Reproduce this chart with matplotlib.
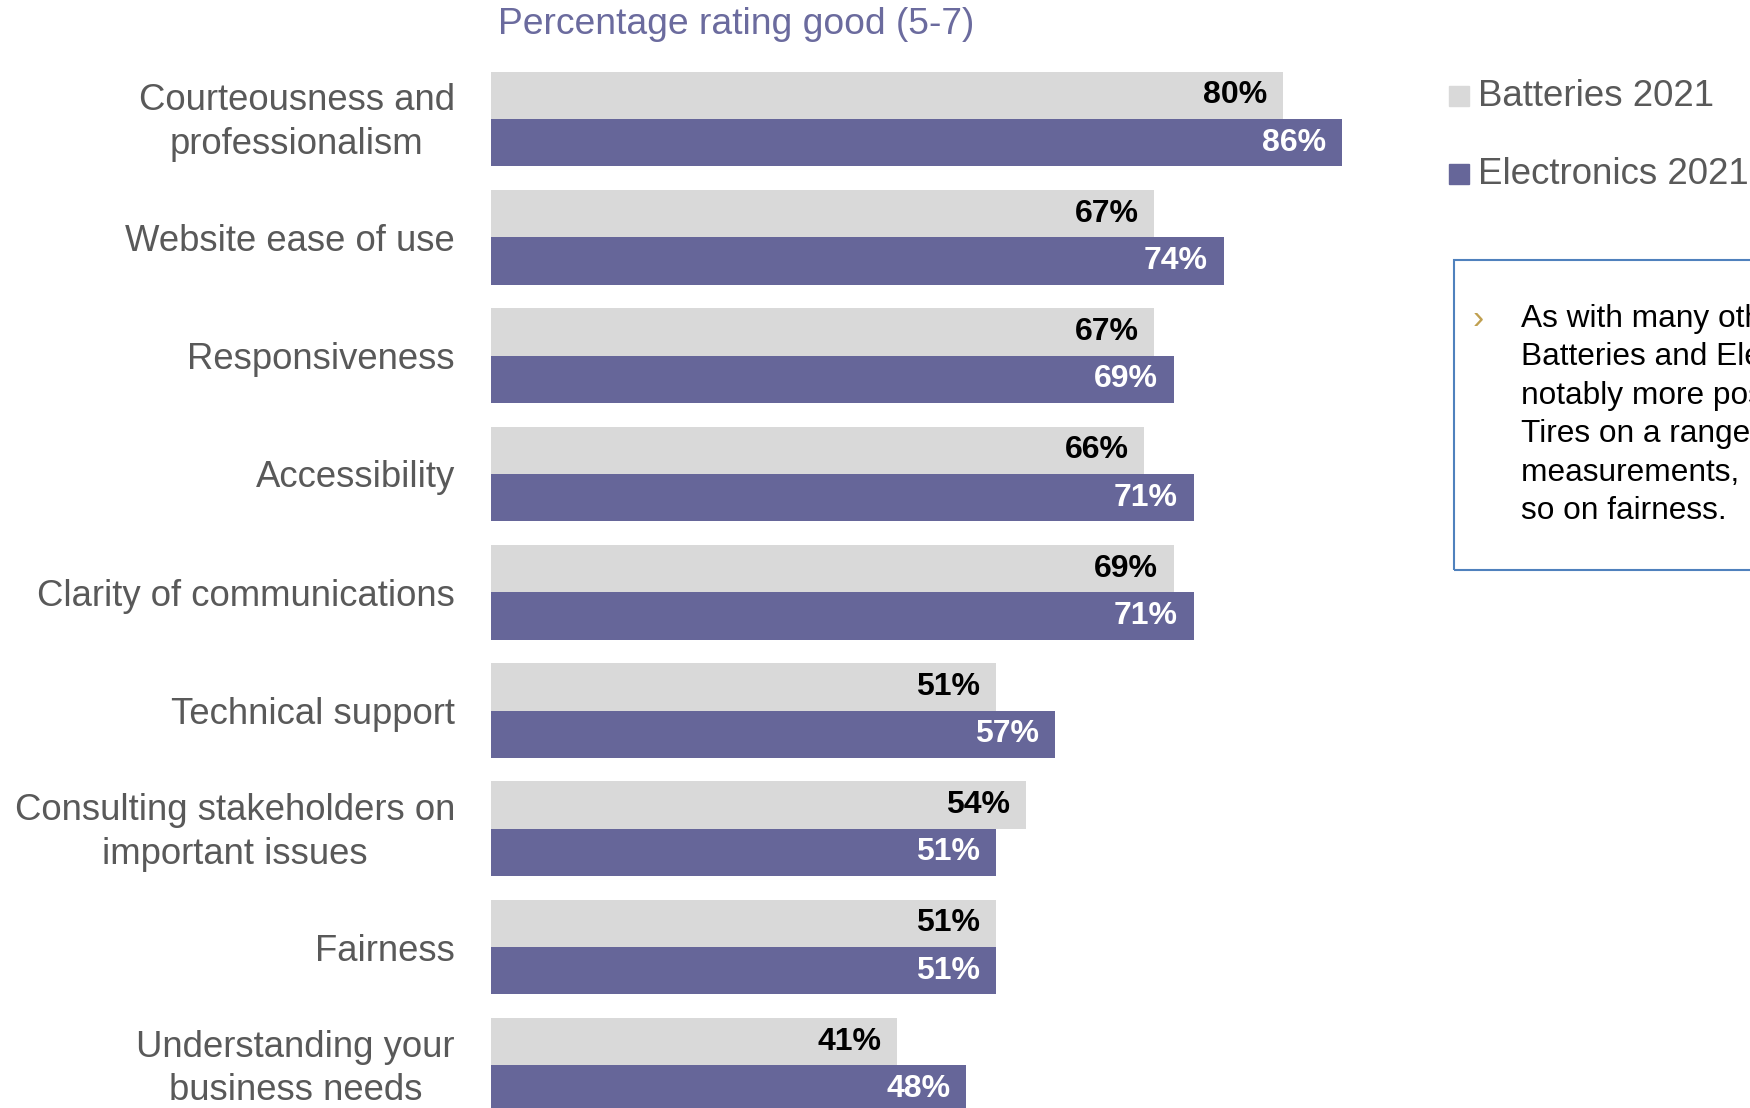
import matplotlib.pyplot as plt
import matplotlib.transforms as mtransforms
from matplotlib.patches import Rectangle

# Survey results, percentage rating good (5-7)
categories = [
    "Courteousness and\nprofessionalism",
    "Website ease of use",
    "Responsiveness",
    "Accessibility",
    "Clarity of communications",
    "Technical support",
    "Consulting stakeholders on\nimportant issues",
    "Fairness",
    "Understanding your\nbusiness needs",
]
batteries = [80, 67, 67, 66, 69, 51, 54, 51, 41]
electronics = [86, 74, 69, 71, 71, 57, 51, 51, 48]
series_names = ["Batteries 2021", "Electronics 2021"]

note_lines = [
    "As with many other industries,",
    "Batteries and Electronics are rated",
    "notably more positively than",
    "Tires on a range of",
    "measurements, particularly",
    "so on fairness.",
]

GREY = "#d9d9d9"
PURPLE = "#666699"
LABEL = "#595959"

plt.rcParams['font.family'] = ['Liberation Sans', 'DejaVu Sans']

W, H = 1750, 1108
fig = plt.figure(figsize=(W / 100, H / 100), dpi=100)

# axes spans 0..100% horizontally, rows are 118 px apart
ax = fig.add_axes([491 / W, 0, 990 / W, 1])
ax.set_xlim(0, 100)
ax.set_ylim(8.36, -1.006)

ys = list(range(len(categories)))
bh = 0.4
ax.barh([y - bh / 2 for y in ys], batteries, height=bh, color=GREY)
ax.barh([y + bh / 2 for y in ys], electronics, height=bh, color=PURPLE)

for y, b, e in zip(ys, batteries, electronics):
    ax.text(b - 1.6, y - bh / 2, f"{b}%", ha='right', va='center',
            fontsize=23, fontweight='bold', color='black')
    ax.text(e - 1.6, y + bh / 2, f"{e}%", ha='right', va='center',
            fontsize=23, fontweight='bold', color='white')

ax.set_yticks(ys)
ax.set_yticklabels(categories, fontsize=26.3, color=LABEL, linespacing=1.32)
ax.tick_params(axis='y', length=0, pad=26)
# two-line names sit a touch higher
nudge = mtransforms.ScaledTranslation(0, 3.5 / 72, fig.dpi_scale_trans)
for t in ax.get_yticklabels():
    t.set_multialignment('center')
    if "\n" in t.get_text():
        t.set_transform(t.get_transform() + nudge)
ax.set_xticks([])
for s in ax.spines.values():
    s.set_visible(False)

# title above the bars
fig.text(498 / W, 1 - 25 / H, "Percentage rating good (5-7)", fontsize=26.8,
         color="#6b6b9e", ha='left', va='center')

# legend drawn by hand
for i, (name, col) in enumerate(zip(series_names, [GREY, PURPLE])):
    yc = 1 - (96 + 78 * i) / H
    fig.patches.append(Rectangle((1449 / W, yc - 10 / H), 20 / W, 20 / H,
                                 transform=fig.transFigure, color=col))
    fig.text(1478 / W, yc, name, fontsize=26.4, color=LABEL, ha='left', va='center')

# comment box on the right
fig.patches.append(Rectangle((1454 / W, 1 - 570 / H), 400 / W, 310 / H,
                             transform=fig.transFigure, fill=False,
                             edgecolor="#4f81bd", linewidth=1.5))
fig.text(1473 / W, 1 - 319 / H, "\u203a", fontsize=24, color="#c0a050",
         ha='left', va='center')
for i, line in enumerate(note_lines):
    fig.text(1521 / W, 1 - (319 + 38.4 * i) / H, line, fontsize=22.8,
             color='black', ha='left', va='center')

fig.savefig("out.png", dpi=100, facecolor='white')
